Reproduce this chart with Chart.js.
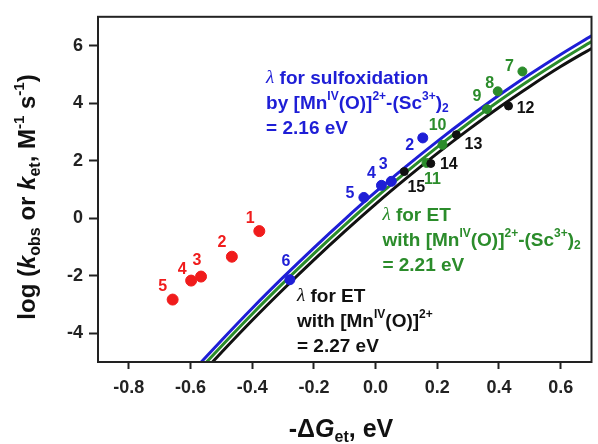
<!DOCTYPE html>
<html>
<head>
<meta charset="utf-8">
<script src="https://cdn.jsdelivr.net/npm/chart.js@4.4.1/dist/chart.umd.min.js"></script>
<style>
  html, body { margin: 0; padding: 0; background: #fff; }
  canvas { display: block; }
</style>
</head>
<body>
<canvas id="chart" width="598" height="444"></canvas>
<script>
// axis ticks
const xTicks = [-0.8, -0.6, -0.4, -0.2, 0.0, 0.2, 0.4, 0.6];
const yTicks = [-4, -2, 0, 2, 4, 6];

// Marcus curves
const curveX = [-0.6, -0.5, -0.4, -0.3, -0.2, -0.1, 0.0, 0.1, 0.2, 0.3, 0.4, 0.5, 0.6, 0.7];
const blueCurve = [-5.4, -4.25, -3.13, -2.06, -1.03, -0.04, 0.91, 1.81, 2.67, 3.49, 4.27, 5.0, 5.69, 6.34];
const greenCurve = [-5.6, -4.45, -3.33, -2.26, -1.23, -0.24, 0.71, 1.61, 2.47, 3.29, 4.07, 4.8, 5.49, 6.14];
const blackCurve = [-5.82, -4.67, -3.55, -2.48, -1.45, -0.46, 0.49, 1.39, 2.25, 3.07, 3.85, 4.58, 5.27, 5.9];

// measured points
const redLabels = ["1", "2", "3", "4", "5"];
const redX = [-0.377, -0.466, -0.566, -0.598, -0.658];
const redY = [-0.45, -1.34, -2.03, -2.17, -2.83];

const blueLabels = ["2", "3", "4", "5", "6"];
const blueX = [0.153, 0.051, 0.019, -0.038, -0.278];
const blueY = [2.79, 1.28, 1.14, 0.72, -2.14];

const greenLabels = ["7", "8", "9", "10", "11"];
const greenX = [0.476, 0.396, 0.361, 0.217, 0.165];
const greenY = [5.10, 4.41, 3.79, 2.55, 1.92];

const blackLabels = ["12", "13", "14", "15"];
const blackX = [0.431, 0.262, 0.179, 0.093];
const blackY = [3.90, 2.90, 1.90, 1.62];

const RED = "#f01c1c", BLUE = "#1e1ed6", GREEN = "#2b8c2b", BLACK = "#111111";
const SANS = "'Liberation Sans', Arial, sans-serif";

function pts(xs, ys) {
    return xs.map((x, i) => ({x: x, y: ys[i]}));
}

// rich text: runs of [text, kind]
function drawRich(ctx, x, y, runs, size, color, align) {
    const fontFor = k => {
        if (k === "sup" || k === "sub") return "bold " + Math.round(size * 0.62) + "px " + SANS;
        if (k === "isub") return "bold " + Math.round(size * 0.65) + "px " + SANS;
        if (k === "lam") return "italic " + size + "px 'Liberation Serif', serif";
        if (k === "it") return "italic bold " + size + "px " + SANS;
        return "bold " + size + "px " + SANS;
    };
    const dyFor = k => {
        if (k === "sup") return -size * 0.36;
        if (k === "sub") return size * 0.28;
        if (k === "isub") return size * 0.3;
        return 0;
    };
    let w = 0;
    runs.forEach(r => { ctx.font = fontFor(r[1]); w += ctx.measureText(r[0]).width; });
    let cx = align === "center" ? x - w / 2 : x;
    ctx.fillStyle = color;
    ctx.textAlign = "left";
    ctx.textBaseline = "middle";
    runs.forEach(r => {
        ctx.font = fontFor(r[1]);
        ctx.fillText(r[0], cx, y + dyFor(r[1]));
        cx += ctx.measureText(r[0]).width;
    });
}

const notes = [
    {x: -0.355, y: 4.86, color: BLUE, lines: [
        [["λ", "lam"], [" for sulfoxidation", ""]],
        [["by [Mn", ""], ["IV", "sup"], ["(O)]", ""], ["2+", "sup"], ["-(Sc", ""], ["3+", "sup"], [")", ""], ["2", "sub"]],
        [["= 2.16 eV", ""]]
    ]},
    {x: 0.022, y: 0.10, color: GREEN, lines: [
        [["λ", "lam"], [" for ET", ""]],
        [["with [Mn", ""], ["IV", "sup"], ["(O)]", ""], ["2+", "sup"], ["-(Sc", ""], ["3+", "sup"], [")", ""], ["2", "sub"]],
        [["= 2.21 eV", ""]]
    ]},
    {x: -0.255, y: -2.72, color: BLACK, lines: [
        [["λ", "lam"], [" for ET", ""]],
        [["with [Mn", ""], ["IV", "sup"], ["(O)]", ""], ["2+", "sup"]],
        [["= 2.27 eV", ""]]
    ]}
];

const decor = {
    id: "decor",
    afterDatasetsDraw(chart) {
        const ctx = chart.ctx;
        const a = chart.chartArea;
        const xs = chart.scales.x, ys = chart.scales.y;
        ctx.save();
        // point labels
        chart.data.datasets.forEach((ds, di) => {
            if (!ds.ptLabels) return;
            const meta = chart.getDatasetMeta(di);
            ds.ptLabels.forEach((t, i) => {
                const el = meta.data[i];
                const off = ds.labelOffsets[i];
                ctx.font = "bold 16px " + SANS;
                ctx.fillStyle = ds.labelColor;
                ctx.textAlign = "center";
                ctx.textBaseline = "middle";
                ctx.fillText(t, el.x + off[0], el.y + off[1]);
            });
        });
        // annotations
        notes.forEach(n => {
            const px = xs.getPixelForValue(n.x);
            const py = ys.getPixelForValue(n.y);
            n.lines.forEach((ln, i) => drawRich(ctx, px, py + i * 25, ln, 19, n.color, "left"));
        });
        // frame
        ctx.strokeStyle = "#222";
        ctx.lineWidth = 2;
        ctx.strokeRect(a.left, a.top, a.right - a.left, a.bottom - a.top);
        // axis titles
        drawRich(ctx, 341, 430,
            [["-Δ", ""], ["G", "it"], ["et", "isub"], [", eV", ""]], 25, "#111", "center");
        ctx.translate(28, 197);
        ctx.rotate(-Math.PI / 2);
        drawRich(ctx, 0, 0,
            [["log (", ""], ["k", "it"], ["obs", "isub"], [" or ", ""], ["k", "it"], ["et", "isub"],
             [", M", ""], ["-1", "sup"], [" s", ""], ["-1", "sup"], [")", ""]], 24, "#111", "center");
        ctx.restore();
    }
};

const tickFont = {family: SANS, size: 18, weight: "bold"};

new Chart(document.getElementById("chart"), {
    type: "scatter",
    data: {
        datasets: [
            {data: pts(redX, redY), ptLabels: redLabels, labelColor: RED,
             labelOffsets: [[-9, -13], [-10, -14], [-4, -16], [-9, -11], [-10, -13]],
             backgroundColor: RED, borderColor: RED, pointRadius: 5.5},
            {data: pts(blueX, blueY), ptLabels: blueLabels, labelColor: BLUE,
             labelOffsets: [[-13, 8], [-8, -17], [-10, -12], [-14, -4], [-4, -18]],
             backgroundColor: BLUE, borderColor: BLUE, pointRadius: 5},
            {data: pts(blackX, blackY), ptLabels: blackLabels, labelColor: BLACK,
             labelOffsets: [[17, 3], [17, 10], [18, 1], [12, 16]],
             backgroundColor: BLACK, borderColor: BLACK, pointRadius: 4},
            {data: pts(greenX, greenY), ptLabels: greenLabels, labelColor: GREEN,
             labelOffsets: [[-13, -5], [-8, -8], [-10, -13], [-5, -19], [6, 17]],
             backgroundColor: GREEN, borderColor: GREEN, pointRadius: 4.5},
            {type: "line", data: pts(curveX, blueCurve), borderColor: BLUE, borderWidth: 3,
             pointRadius: 0, cubicInterpolationMode: "monotone", fill: false},
            {type: "line", data: pts(curveX, greenCurve), borderColor: GREEN, borderWidth: 3,
             pointRadius: 0, cubicInterpolationMode: "monotone", fill: false},
            {type: "line", data: pts(curveX, blackCurve), borderColor: BLACK, borderWidth: 3,
             pointRadius: 0, cubicInterpolationMode: "monotone", fill: false}
        ]
    },
    options: {
        responsive: false,
        animation: false,
        events: [],
        layout: {padding: {top: 14, right: 2, left: 0, bottom: 0}},
        plugins: {legend: {display: false}, tooltip: {enabled: false}},
        scales: {
            x: {
                type: "linear", min: -0.9, max: 0.7,
                afterBuildTicks: axis => { axis.ticks = xTicks.map(v => ({value: v})); },
                afterFit: scale => { scale.height = 82; },
                ticks: {font: tickFont, color: "#222", padding: 8, maxRotation: 0,
                        callback: v => v.toFixed(1)},
                grid: {drawOnChartArea: false, drawTicks: true, tickLength: 7, tickWidth: 2, tickColor: "#222"},
                border: {display: true, width: 2, color: "#222"}
            },
            y: {
                type: "linear", min: -5, max: 7,
                afterBuildTicks: axis => { axis.ticks = yTicks.map(v => ({value: v})); },
                afterFit: scale => { scale.width = 98; },
                ticks: {font: tickFont, color: "#222", padding: 6,
                        callback: v => String(v)},
                grid: {drawOnChartArea: false, drawTicks: true, tickLength: 9, tickWidth: 2, tickColor: "#222"},
                border: {display: true, width: 2, color: "#222"}
            }
        }
    },
    plugins: [decor]
});
</script>
</body>
</html>
